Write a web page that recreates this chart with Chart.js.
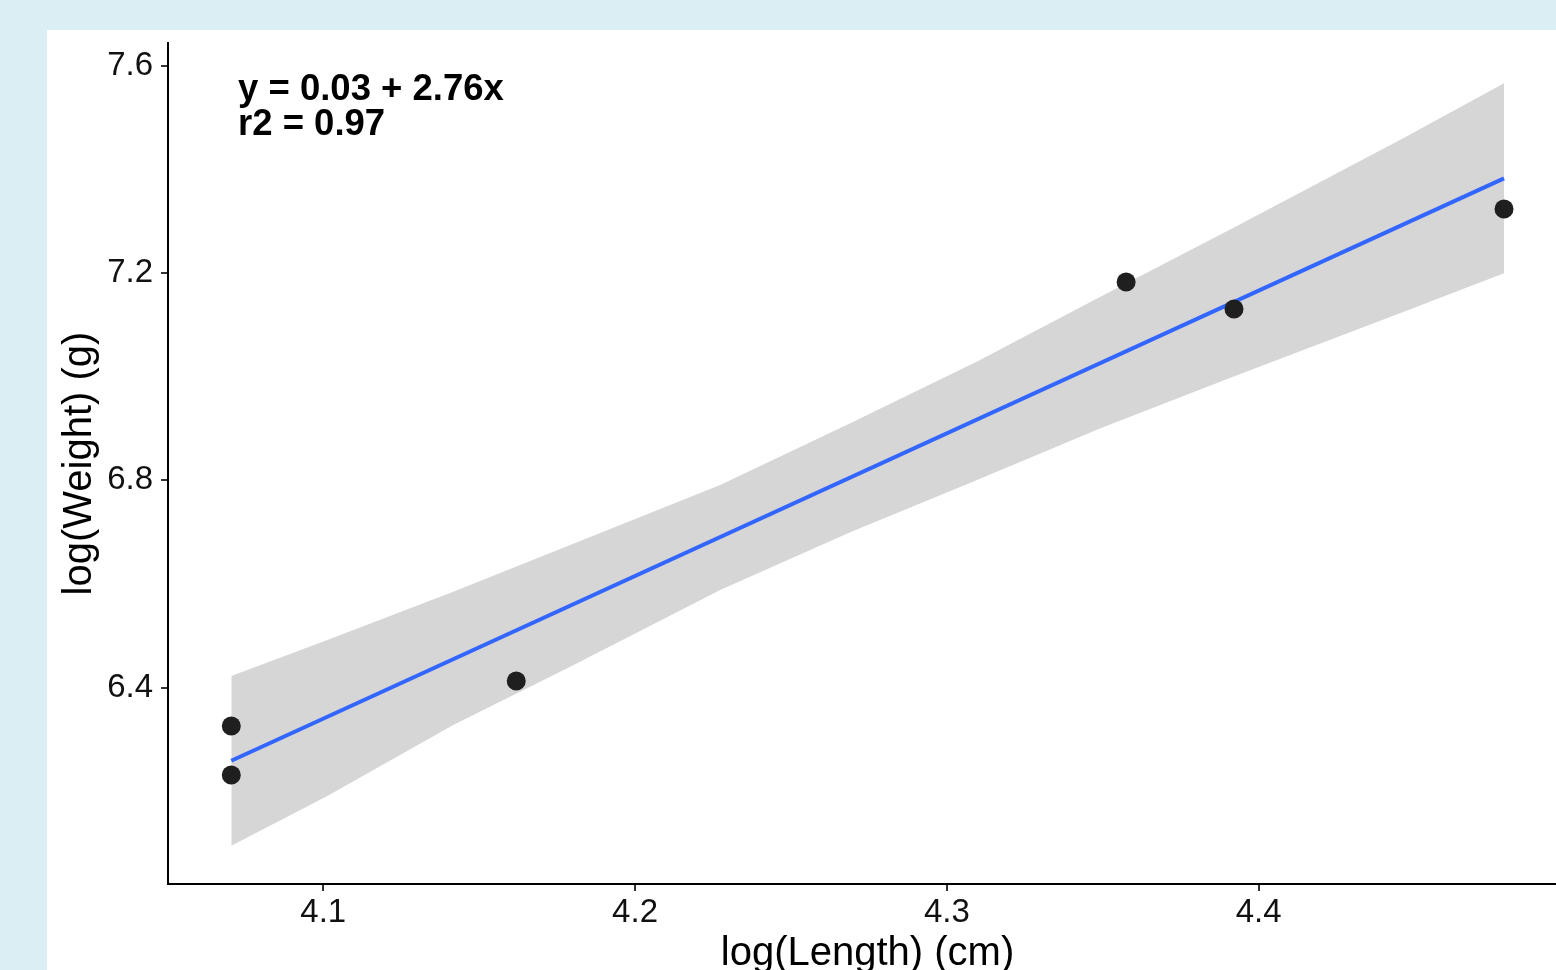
<!DOCTYPE html>
<html>
<head>
<meta charset="utf-8">
<script src="https://cdn.jsdelivr.net/npm/chart.js@4.4.1/dist/chart.umd.min.js"></script>
<style>
  html, body { margin: 0; padding: 0; overflow: hidden; background: #dbeef4; width: 1556px; height: 970px; }
  #panel { position: absolute; left: 47px; top: 30px; width: 1520px; height: 960px; background: #fff; }
  canvas { display: block; }
</style>
</head>
<body>
<div id="panel"><canvas id="lwChart" width="1520" height="960"></canvas></div>
<script>
// observed fish, log scale
const lengthLog = [4.0705, 4.0705, 4.1619, 4.3575, 4.3921, 4.4787];
const weightLog = [6.3260, 6.2315, 6.4128, 7.1827, 7.1306, 7.3235];

// fitted line and its confidence band
const fitX = [4.0705, 4.4787];
const fitY = [6.259, 7.3827];
const bandX = [4.0705, 4.1013, 4.1417, 4.1792, 4.2273, 4.2690, 4.3097, 4.3491, 4.3918, 4.4453, 4.4787];
const bandUpper = [6.4225, 6.4920, 6.5849, 6.6753, 6.7910, 6.9101, 7.0293, 7.1537, 7.2869, 7.4566, 7.5660];
const bandLower = [6.0951, 6.1910, 6.3280, 6.4404, 6.5884, 6.6998, 6.8007, 6.9000, 7.0000, 7.1223, 7.1995];

const xTicks = [4.1, 4.2, 4.3, 4.4];
const yTicks = [6.4, 6.8, 7.2, 7.6];
const eqLines = ['y = 0.03 + 2.76x', 'r2 = 0.97'];

const FONT = '"Liberation Sans", Arial, sans-serif';

function toPoints(xs, ys) {
    return xs.map((x, i) => ({ x: x, y: ys[i] }));
}

const eqPlugin = {
    id: 'eqText',
    afterDatasetsDraw(chart) {
        const { ctx, chartArea } = chart;
        ctx.save();
        ctx.font = 'bold 36.5px ' + FONT;
        ctx.fillStyle = '#000';
        ctx.textBaseline = 'alphabetic';
        ctx.fillText(eqLines[0], chartArea.left + 70, chartArea.top + 57);
        ctx.fillText(eqLines[1], chartArea.left + 70, chartArea.top + 92);
        ctx.restore();
    }
};

const tickGrid = {
    display: true,
    drawOnChartArea: false,
    drawTicks: true,
    tickLength: 7,
    color: '#333',
    lineWidth: 2
};

const ctx = document.getElementById('lwChart').getContext('2d');
const chart = new Chart(ctx, {
    type: 'scatter',
    data: {
        datasets: [
            {
                label: 'fish',
                data: toPoints(lengthLog, weightLog),
                pointRadius: 9.5,
                pointBackgroundColor: '#1f1f1f',
                pointBorderWidth: 0,
                order: 0
            },
            {
                type: 'line',
                label: 'fit',
                data: toPoints(fitX, fitY),
                borderColor: '#3366FF',
                borderWidth: 4,
                pointRadius: 0,
                fill: false,
                tension: 0,
                order: 1
            },
            {
                type: 'line',
                label: 'upper',
                data: toPoints(bandX, bandUpper),
                borderWidth: 0,
                borderColor: 'rgba(0,0,0,0)',
                backgroundColor: '#d6d6d6',
                pointRadius: 0,
                fill: '+1',
                tension: 0,
                order: 2
            },
            {
                type: 'line',
                label: 'lower',
                data: toPoints(bandX, bandLower),
                borderWidth: 0,
                borderColor: 'rgba(0,0,0,0)',
                pointRadius: 0,
                fill: false,
                tension: 0,
                order: 3
            }
        ]
    },
    options: {
        responsive: false,
        animation: false,
        layout: { autoPadding: false, padding: { top: 13, right: 0, left: 0, bottom: 0 } },
        plugins: {
            legend: { display: false },
            tooltip: { enabled: false }
        },
        scales: {
            x: {
                type: 'linear',
                min: 4.0502,
                max: 4.4989,
                afterBuildTicks: scale => { scale.ticks = xTicks.map(v => ({ value: v })); },
                afterFit: scale => {
                    scale.height = 106;
                    scale.paddingLeft = 0;
                    scale.paddingRight = 0;
                },
                grid: tickGrid,
                border: { display: true, color: '#000', width: 2 },
                ticks: {
                    padding: 2,
                    color: '#111',
                    font: { family: FONT, size: 33 },
                    callback: v => v.toFixed(1)
                },
                title: {
                    display: true,
                    text: 'log(Length) (cm)',
                    color: '#000',
                    font: { family: FONT, size: 40 },
                    padding: { top: 0, bottom: 12 }
                }
            },
            y: {
                type: 'linear',
                min: 6.0212,
                max: 7.6438,
                afterBuildTicks: scale => { scale.ticks = yTicks.map(v => ({ value: v })); },
                afterFit: scale => {
                    scale.width = 121;
                    scale.paddingTop = 0;
                    scale.paddingBottom = 0;
                },
                grid: tickGrid,
                border: { display: true, color: '#000', width: 2 },
                ticks: {
                    padding: 8,
                    color: '#111',
                    font: { family: FONT, size: 33 },
                    callback: v => v.toFixed(1)
                },
                title: {
                    display: true,
                    text: 'log(Weight) (g)',
                    color: '#000',
                    font: { family: FONT, size: 40 },
                    padding: { top: 9, bottom: 0 }
                }
            }
        }
    },
    plugins: [eqPlugin]
});
</script>
</body>
</html>
